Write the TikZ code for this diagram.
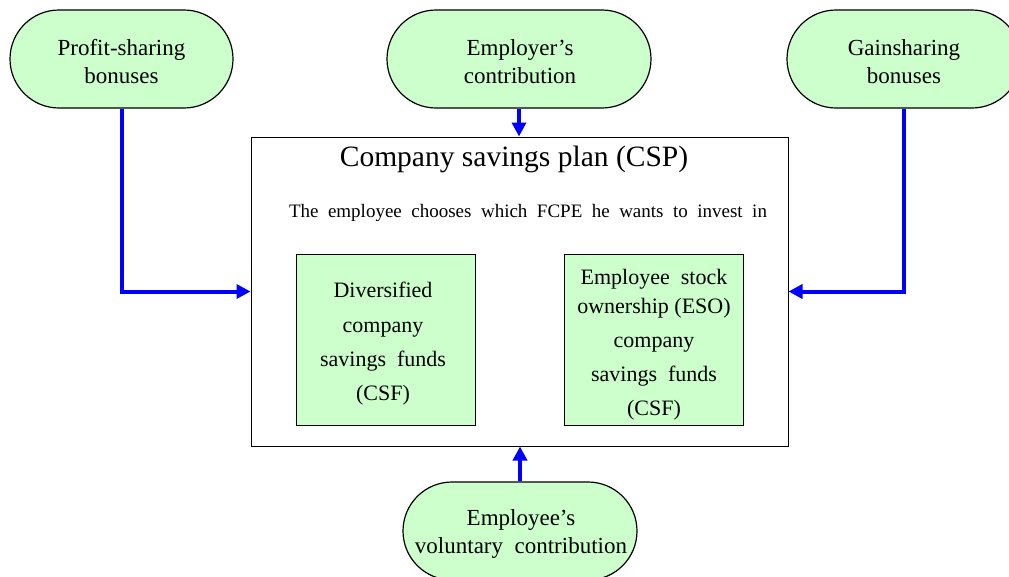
\documentclass[tikz,border=0pt]{standalone}
\usepackage{fontspec}
\setmainfont{Liberation Serif}
\usetikzlibrary{arrows.meta}
\definecolor{pgreen}{RGB}{204,255,204}
\begin{document}
\begin{tikzpicture}[x=1pt,y=-1pt,
  pill/.style={draw=black,line width=1.2pt,fill=pgreen,rounded corners=49pt,minimum height=98pt,inner sep=0pt,align=center,font=\fontsize{23}{28}\selectfont},
  fund/.style={draw=black,line width=1pt,fill=pgreen,minimum width=179pt,minimum height=171pt,inner sep=0pt},
  flow/.style={draw=blue,line width=4pt,-{Triangle[length=14pt,width=14pt]}}]
\useasboundingbox (0,0) rectangle (1009,576);
\clip (0,0) rectangle (1009,576);
\node[pill,minimum width=223pt] (lp) at (121.5,59) {};
\node[pill,minimum width=264pt] (mp) at (519,59) {};
\node[pill,minimum width=234pt] (rp) at (904,59) {};
\node[pill,minimum width=234pt] (bp) at (520,531) {};
\node[align=center,font=\fontsize{23}{28}\selectfont,inner sep=0pt] (lpt) at (121.5,62) {Profit-sharing\\bonuses};
\node[align=center,font=\fontsize{23}{28}\selectfont,inner sep=0pt] (mpt) at (520,62) {Employer’s\\contribution};
\node[align=center,font=\fontsize{23}{28}\selectfont,inner sep=0pt] (rpt) at (904,62) {Gainsharing\\bonuses};
\node[align=center,font=\fontsize{23}{28}\selectfont,inner sep=0pt] (bpt) at (521,534) {Employee’s\\voluntary\ \ contribution};
\node[draw=black,line width=1pt,minimum width=537pt,minimum height=309pt,inner sep=0pt] (csp) at (519.5,291.5) {};
\node[font=\fontsize{29.5}{34}\selectfont,inner sep=0pt] (title) at (514,159) {Company savings plan (CSP)};
\node[font=\fontsize{19}{23}\selectfont,inner sep=0pt] (sub) at (528,213) {\makebox[478pt][s]{The employee chooses which FCPE he wants to invest in}};
\node[fund] (lf) at (385.5,339.5) {};
\node[fund] (rf) at (654,339.5) {};
\node[align=center,font=\fontsize{22}{34.3}\selectfont,inner sep=0pt] (lft) at (383,344) {Diversified\\company\\savings\ \ funds\\(CSF)};
\node[align=center,font=\fontsize{22}{34}\selectfont,inner sep=0pt] (rft) at (654,345) {Employee\ \ stock\\[-5pt]ownership (ESO)\\company\\savings\ \ funds\\(CSF)};
\draw[flow] (lp.south) |- (csp.west);
\draw[flow] (rp.south) |- (csp.east);
\draw[flow] (mp.south) -- (mp.south |- csp.north);
\draw[flow] (bp.north) -- (bp.north |- csp.south);
\end{tikzpicture}
\end{document}
